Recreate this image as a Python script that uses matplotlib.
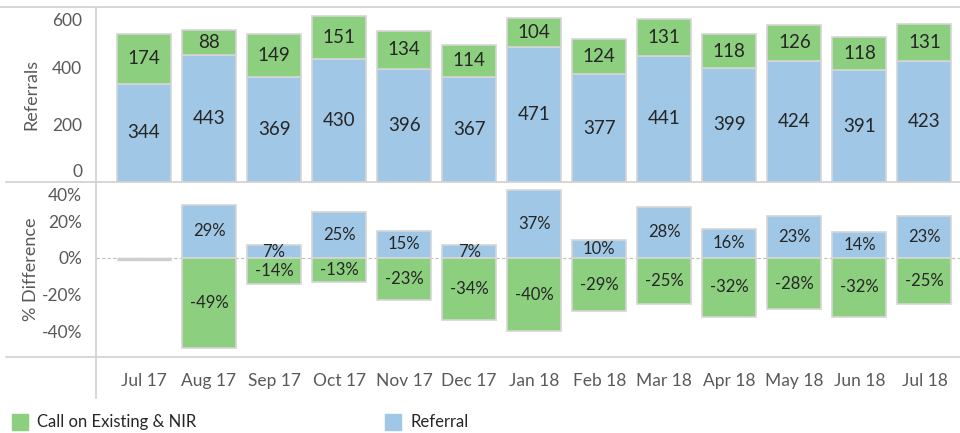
import numpy as np
import matplotlib.pyplot as plt
from matplotlib.lines import Line2D
from matplotlib.patches import Rectangle
from matplotlib.transforms import ScaledTranslation

plt.rcParams['font.family'] = ['Lato', 'DejaVu Sans']

# 月別データ
months = ['Jul 17', 'Aug 17', 'Sep 17', 'Oct 17', 'Nov 17', 'Dec 17', 'Jan 18',
          'Feb 18', 'Mar 18', 'Apr 18', 'May 18', 'Jun 18', 'Jul 18']
referral = [344, 443, 369, 430, 396, 367, 471, 377, 441, 399, 424, 391, 423]
call_nir = [174, 88, 149, 151, 134, 114, 104, 124, 131, 118, 126, 118, 131]

# Jul 17 比の増減率 (Aug 17 以降)
referral_pct = [29, 7, 25, 15, 7, 37, 10, 28, 16, 23, 14, 23]
call_pct = [-49, -14, -13, -23, -34, -40, -29, -25, -32, -28, -32, -25]

green = '#8ccf7e'
blue = '#a0c8e6'
edge = '#d6d6d6'
frame = '#d0d0d0'
txt = '#262626'
tick_col = '#595959'

W, H = 960, 433
fig = plt.figure(figsize=(W / 100, H / 100), dpi=100)

def box(x0, y0, x1, y1):
    return [x0 / W, 1 - y1 / H, (x1 - x0) / W, (y1 - y0) / H]

ax1 = fig.add_axes(box(96, 7, 960, 182))
ax2 = fig.add_axes(box(96, 182, 960, 357))

x = np.arange(len(months))
bw = 0.83

#上段: 積み上げ棒
ax1.bar(x, referral, bw, color=blue, edgecolor=edge, linewidth=1.2)
ax1.bar(x, call_nir, bw, bottom=referral, color=green, edgecolor=edge, linewidth=1.2)
for i in range(len(months)):
    ax1.text(x[i], referral[i] / 2, str(referral[i]), ha='center', va='center',
             fontsize=13.5, color=txt)
    ax1.text(x[i], referral[i] + call_nir[i] / 2, str(call_nir[i]), ha='center',
             va='center', fontsize=13.5, color=txt)
ax1.set_ylim(0, 612.5)
ax1.set_yticks([0, 200, 400, 600])

#下段: 増減率
xp = x[1:]
ax2.bar(xp, referral_pct, bw, color=blue, edgecolor=edge, linewidth=1.2)
ax2.bar(xp, call_pct, bw, color=green, edgecolor=edge, linewidth=1.2)
for i in range(len(xp)):
    ax2.text(xp[i], referral_pct[i] / 2, '%d%%' % referral_pct[i], ha='center',
             va='center', fontsize=12, color=txt)
    ax2.text(xp[i], call_pct[i] / 2, '%d%%' % call_pct[i], ha='center',
             va='center', fontsize=12, color=txt)
ax2.hlines(-0.6, x[0] - bw / 2, x[0] + bw / 2, color='#cfcfcf', linewidth=2.5)
ax2.axhline(0, color='#bdbdbd', linewidth=0.8, linestyle=(0, (3, 2)), zorder=0)
ax2.set_ylim(-54.1, 41.5)
ax2.set_yticks([-40, -20, 0, 20, 40])
ax2.set_yticklabels(['-40%', '-20%', '0%', '20%', '40%'])

for ax in (ax1, ax2):
    ax.set_xlim(-0.738, 12.546)
    for s in ax.spines.values():
        s.set_visible(False)
    ax.tick_params(axis='y', length=0, labelsize=12.5, labelcolor=tick_col, pad=10)
    ax.tick_params(axis='x', length=0)
    ax.set_xticks([])
    ax.patch.set_alpha(0)

# 端の目盛ラベルをパネル内側へずらす
def shift(lbl, dy):
    lbl.set_transform(lbl.get_transform() + ScaledTranslation(0, dy / 72, fig.dpi_scale_trans))

l1 = ax1.get_yticklabels()
shift(l1[0], 8.5)
shift(l1[-1], -6.5)
l2 = ax2.get_yticklabels()
shift(l2[-1], -7)

ax1.set_ylabel('Referrals', fontsize=13, color=tick_col)
ax2.set_ylabel('% Difference', fontsize=13, color=tick_col)
ax1.yaxis.set_label_coords(-0.066, 0.5)
ax2.yaxis.set_label_coords(-0.066, 0.5)

# 月ラベル
for i in range(len(months)):
    xf = ax2.transData.transform((x[i], 0))[0] / W
    fig.text(xf, 1 - 381 / H, months[i], ha='center', va='center', fontsize=12.5,
             color=tick_col)

# 枠線
def fline(x0, y0, x1, y1):
    fig.add_artist(Line2D([x0 / W, x1 / W], [1 - y0 / H, 1 - y1 / H],
                          color=frame, linewidth=1.2))

fline(0, 7, 960, 7)
fline(6, 182, 960, 182)
fline(6, 357, 960, 357)
fline(96, 7, 96, 398)

# 凡例
for px, label, c in [(12, 'Call on Existing & NIR', green), (385, 'Referral', blue)]:
    fig.add_artist(Rectangle((px / W, 1 - 430 / H), 16 / W, 16 / H, color=c,
                             transform=fig.transFigure))
    fig.text((px + 25) / W, 1 - 422 / H, label, ha='left', va='center',
             fontsize=12, color=txt)

fig.savefig('out.png', dpi=100)
